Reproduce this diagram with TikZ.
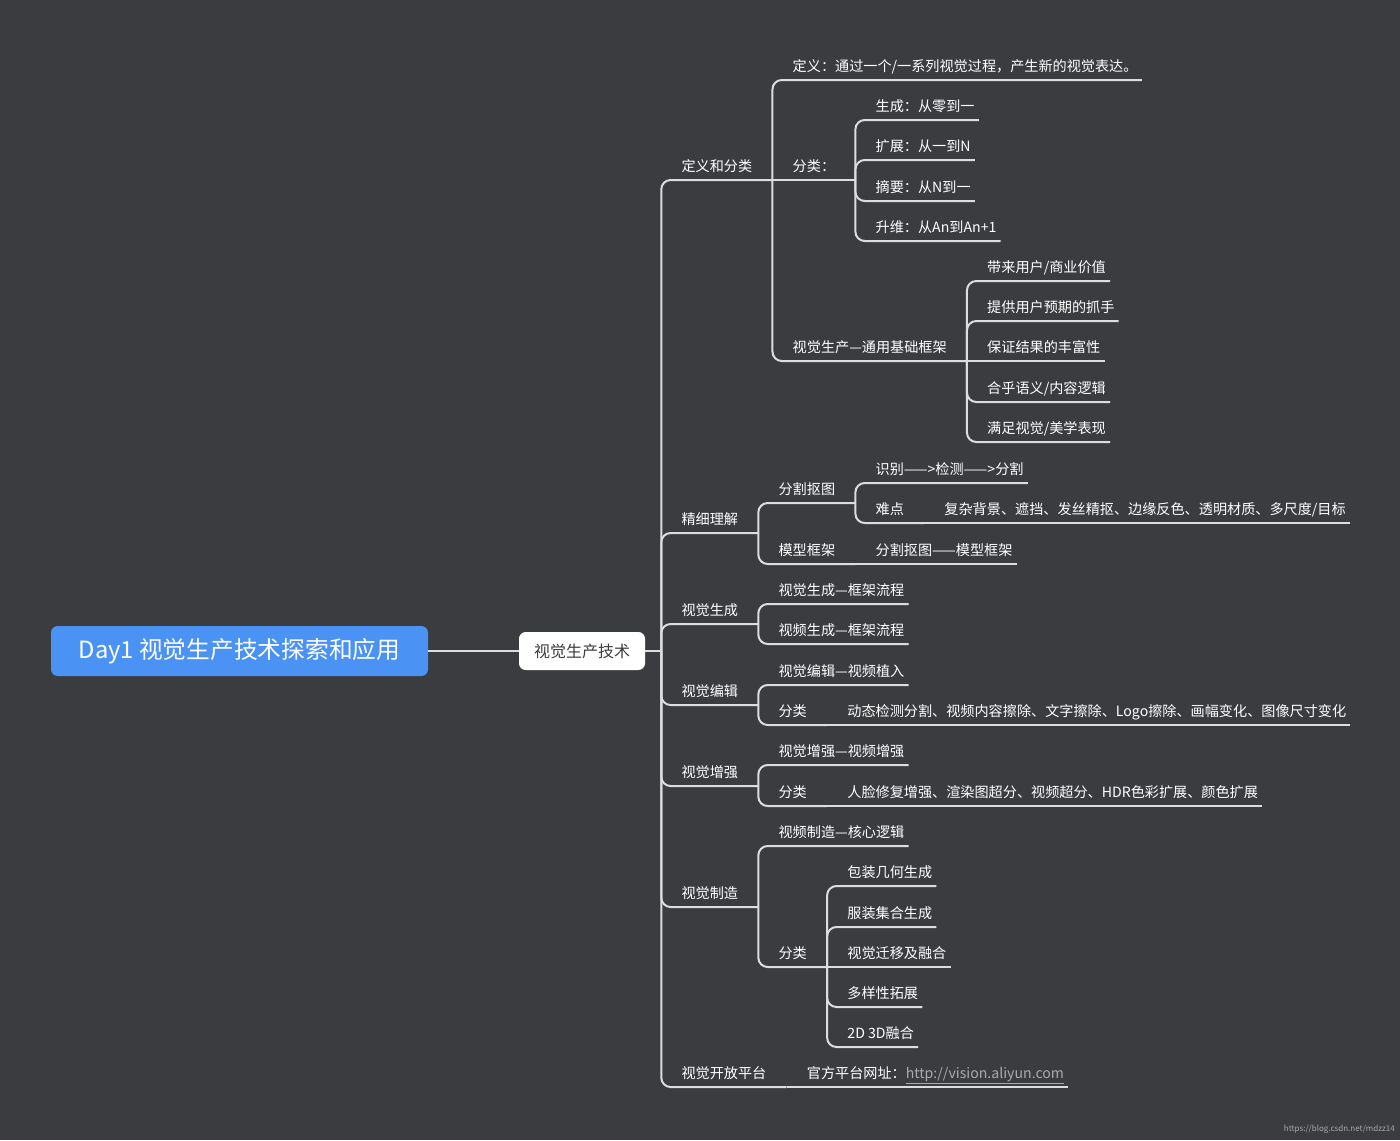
\documentclass[tikz,border=0pt]{standalone}
\usepackage{fontspec}
\newfontfamily\cjk{Noto Sans CJK SC}
\definecolor{BgGrey}{HTML}{3A3C40}
\definecolor{LineGrey}{HTML}{DDDDDD}
\definecolor{RootBlue}{HTML}{4A92F3}
\definecolor{HubText}{HTML}{3C3C3C}
\definecolor{UrlGrey}{HTML}{AAAAAA}
\usetikzlibrary{calc}

\begin{document}
\begin{tikzpicture}[x=0.75pt, y=-0.75pt,
  branch/.style={line width=1.5pt, LineGrey, rounded corners=7pt},
  topic/.style={anchor=south west, inner xsep=15pt, inner ysep=6.4pt, text depth=0pt,
    text=white, font=\cjk\fontsize{10.6}{13}\selectfont},
  leaf/.style={topic, inner xsep=3pt, xshift=12pt},
  root/.style={fill=RootBlue, rounded corners=5pt, minimum width=282.75pt,
    minimum height=37.5pt, text=white, font=\cjk\fontsize{17.8}{20}\selectfont},
  hub/.style={fill=white, rounded corners=5pt, minimum width=94.5pt,
    minimum height=28.5pt, text=HubText, font=\cjk\fontsize{12}{14}\selectfont}]
  \fill[BgGrey] (0,0) rectangle (1400,1140);
  % centre of the map
  \node[root] (root) at (239.5,651) {Day1 视觉生产技术探索和应用};
  \node[hub] (tech) at (582,651) {视觉生产技术};
  \draw[branch] (root.east) -- (tech.west);
  \coordinate (ctr) at ([xshift=12pt]tech.east);
  \draw[branch] (tech.east) -- (ctr);
  % main branches
  \node[topic] (dfl) at (ctr |- 0,180) {定义和分类};
  \node[topic] (jxlj) at (ctr |- 0,533) {精细理解};
  \node[topic] (sjsc) at (ctr |- 0,624) {视觉生成};
  \node[topic] (sjbj) at (ctr |- 0,705) {视觉编辑};
  \node[topic] (sjzq) at (ctr |- 0,786) {视觉增强};
  \node[topic] (sjzz) at (ctr |- 0,907) {视觉制造};
  \node[topic] (kfpt) at (ctr |- 0,1087) {视觉开放平台};
  % definition and classes
  \node[leaf] (dy) at (dfl.south east |- 0,80) {定义：通过一个/一系列视觉过程，产生新的视觉表达。};
  \node[topic] (fl) at (dfl.south east |- 0,180) {分类：};
  \node[topic] (kj) at (dfl.south east |- 0,361) {视觉生产—通用基础框架};
  \node[leaf] (fla) at (fl.south east |- 0,120) {生成：从零到一};
  \node[leaf] (flb) at (fl.south east |- 0,160) {扩展：从一到N};
  \node[leaf] (flc) at (fl.south east |- 0,201) {摘要：从N到一};
  \node[leaf] (fld) at (fl.south east |- 0,241) {升维：从An到An+1};
  \node[leaf] (kja) at (kj.south east |- 0,281) {带来用户/商业价值};
  \node[leaf] (kjb) at (kj.south east |- 0,321) {提供用户预期的抓手};
  \node[leaf] (kjc) at (kj.south east |- 0,361) {保证结果的丰富性};
  \node[leaf] (kjd) at (kj.south east |- 0,402) {合乎语义/内容逻辑};
  \node[leaf] (kje) at (kj.south east |- 0,442) {满足视觉/美学表现};
  % fine understanding
  \node[topic] (fgkt) at (jxlj.south east |- 0,503) {分割抠图};
  \node[topic] (mxkj) at (jxlj.south east |- 0,564) {模型框架};
  \node[leaf] (sbjc) at (fgkt.south east |- 0,483) {识别——>检测——>分割};
  \node[topic] (nd) at (fgkt.south east |- 0,523) {难点};
  \node[leaf] (ndx) at (nd.south east |- 0,523) {复杂背景、遮挡、发丝精抠、边缘反色、透明材质、多尺度/目标};
  \node[leaf] (mxkjx) at (mxkj.south east |- 0,564) {分割抠图——模型框架};
  % generation
  \node[leaf] (sca) at (sjsc.south east |- 0,604) {视觉生成—框架流程};
  \node[leaf] (scb) at (sjsc.south east |- 0,644) {视频生成—框架流程};
  % editing
  \node[leaf] (bja) at (sjbj.south east |- 0,685) {视觉编辑—视频植入};
  \node[topic] (bjfl) at (sjbj.south east |- 0,725) {分类};
  \node[leaf] (bjflx) at (bjfl.south east |- 0,725) {动态检测分割、视频内容擦除、文字擦除、Logo擦除、画幅变化、图像尺寸变化};
  % enhancement
  \node[leaf] (zqa) at (sjzq.south east |- 0,765) {视觉增强—视频增强};
  \node[topic] (zqfl) at (sjzq.south east |- 0,806) {分类};
  \node[leaf] (zqflx) at (zqfl.south east |- 0,806) {人脸修复增强、渲染图超分、视频超分、HDR色彩扩展、颜色扩展};
  % manufacturing
  \node[leaf] (zza) at (sjzz.south east |- 0,846) {视频制造—核心逻辑};
  \node[topic] (zzfl) at (sjzz.south east |- 0,967) {分类};
  \node[leaf] (zzfla) at (zzfl.south east |- 0,886) {包装几何生成};
  \node[leaf] (zzflb) at (zzfl.south east |- 0,927) {服装集合生成};
  \node[leaf] (zzflc) at (zzfl.south east |- 0,967) {视觉迁移及融合};
  \node[leaf] (zzfld) at (zzfl.south east |- 0,1007) {多样性拓展};
  \node[leaf] (zzfle) at (zzfl.south east |- 0,1047) {2D 3D融合};
  % open platform
  \node[leaf] (url) at (kfpt.south east |- 0,1087) {官方平台网址：\textcolor{UrlGrey}{\underline{http://vision.aliyun.com}}};
  % connectors, bent ones
  \foreach \n in {dfl,jxlj,sjsc,sjbj,sjzq,sjzz,kfpt}
    \draw[branch] (ctr) |- (\n.south east);
  \foreach \p/\c in {dfl/dy, dfl/kj, fl/fla, fl/flb, fl/flc, fl/fld,
      kj/kja, kj/kjb, kj/kjd, kj/kje, jxlj/fgkt, jxlj/mxkj,
      fgkt/sbjc, fgkt/nd, sjsc/sca, sjsc/scb,
      sjbj/bja, sjbj/bjfl, sjzq/zqa, sjzq/zqfl,
      sjzz/zza, sjzz/zzfl, zzfl/zzfla, zzfl/zzflb, zzfl/zzfld, zzfl/zzfle}
    \draw[branch] (\p.south east) |- (\c.south east);
  % connectors, straight ones
  \foreach \p/\c in {dfl/fl, kj/kjc, nd/ndx, mxkj/mxkjx, bjfl/bjflx,
      zqfl/zqflx, zzfl/zzflc, kfpt/url}
    \draw[branch] (\p.south east) -- (\c.south east);
  % watermark
  \node[anchor=south east, inner sep=0pt, text=UrlGrey, font=\cjk\fontsize{6}{7}\selectfont]
    (mark) at (1395,1134) {https://blog.csdn.net/mdzz14};
\end{tikzpicture}
\end{document}
